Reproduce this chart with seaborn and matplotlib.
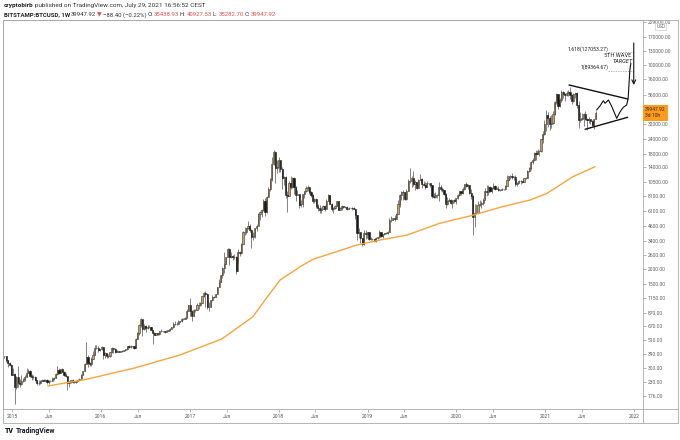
import matplotlib
matplotlib.use('Agg')
import matplotlib.pyplot as plt
import matplotlib.transforms as mtransforms
from matplotlib.ticker import NullLocator
import pandas as pd
import seaborn as sns

sns.set_style('white')
plt.rcParams['font.family'] = ['Roboto', 'DejaVu Sans']

# weekly BITSTAMP:BTCUSD candles, first week starting 2014-12-01
week_start = '2014-12-01'
first_open = 380

close = [
    375, 350, 330, 317, 265,
    # 2015
    267, 210, 254, 226, 222, 235, 244, 255, 275, 283, 260, 252, 253,
    237, 224, 226, 234, 241, 234, 241, 230, 233, 233, 243, 250, 270,
    292, 275, 293, 281, 265, 257, 227, 229, 240, 231, 231, 234, 240,
    245, 263, 285, 325, 373, 330, 323, 360, 389, 445, 438, 422, 432,
    # 2016
    448, 387, 403, 378, 375, 405, 438, 434, 412, 413, 412, 418, 420,
    425, 430, 460, 451, 460, 457, 443, 529, 592, 685, 763, 630, 675,
    650, 665, 662, 625, 590, 570, 584, 574, 607, 607, 609, 604, 614,
    619, 640, 657, 700, 705, 702, 729, 733, 765, 775, 790, 897, 998,
    # 2017
    903, 820, 922, 920, 1011, 997, 1050, 1190, 1270, 1232, 960, 965, 1100,
    1180, 1180, 1245, 1420, 1570, 1775, 2050, 2200, 2510, 2950, 2505, 2590, 2500,
    2510, 1930, 2760, 2740, 3240, 4050, 4070, 4350, 4580, 4190, 3700, 3780, 4390,
    4600, 5700, 6000, 6150, 7400, 5950, 8000, 9300, 11200, 15000, 19000, 13800, 14100,
    # 2018
    16100, 13600, 11500, 11700, 8200, 8100, 10300, 9600, 11400, 9600, 8200, 8500, 6850,
    7000, 8350, 8900, 9400, 9650, 8700, 8200, 7350, 7700, 6700, 6450, 6150, 6350,
    6750, 6350, 7400, 8200, 7000, 6300, 6400, 6700, 7300, 6250, 6500, 6720, 6600,
    6580, 6300, 6420, 6450, 6400, 6350, 5580, 4000, 4100, 3600, 3250, 4000, 3900, 4050,
    # 2019
    3550, 3530, 3550, 3410, 3650, 3670, 4100, 3800, 3900, 4000, 3990, 4100,
    5100, 5100, 5300, 5250, 5750, 6950, 8200, 8750, 8700, 7700, 8900, 10850, 10800,
    11400, 10200, 10500, 9500, 11000, 11300, 10200, 10100, 9700,
    10400, 10300, 10000, 8100, 7900, 8300, 8200, 9550, 9300,
    9030, 8500, 6900, 7400, 7500, 7100, 7500, 7400, 7750,
    # 2020
    8200, 8900, 8600, 9350, 10150, 9900, 9950, 8550, 8050, 5400, 5800, 5900, 6850,
    6900, 7150, 7550, 8900, 8750, 9700, 8900, 9450, 9750, 9350, 9300, 9100, 9100,
    9300, 9200, 9900, 11100, 11900, 11900, 11600, 11700, 10250, 10350, 10900, 10750, 10650,
    11400, 11350, 13100, 13800, 15500, 16000, 18400, 18200, 19100, 19300, 24000, 26500, 32200,
    # 2021
    38200, 36000, 32300, 33100, 38900, 48600, 57400, 45200,
    50900, 59000, 57600, 55800, 58200, 59800, 56200, 50000, 56600,
    58200, 46400, 34700, 35600, 35800, 39100, 35500, 34700, 35300,
    34300, 31800, 35438.93, 39947.92,
]

high = [
    382, 376, 352, 336, 322,
    # 2015
    300, 274, 256, 310, 245, 262, 250, 265, 298, 296, 290, 268, 265,
    260, 240, 238, 240, 246, 244, 244, 242, 240, 237, 252, 254, 275,
    315, 298, 295, 298, 282, 272, 258, 236, 240, 245, 235, 237, 242,
    247, 266, 285, 334, 495, 385, 335, 370, 420, 468, 465, 458, 436,
    # 2016
    462, 452, 410, 397, 392, 405, 448, 440, 443, 423, 418, 420, 425,
    427, 432, 462, 469, 465, 462, 457, 532, 595, 705, 778, 767, 705,
    680, 680, 680, 663, 626, 600, 590, 585, 614, 632, 612, 611, 617,
    620, 642, 660, 720, 740, 722, 750, 744, 780, 780, 795, 939, 1000,
    # 2017
    1153, 910, 929, 930, 1035, 1065, 1055, 1190, 1280, 1325, 1260, 1060, 1100,
    1210, 1202, 1250, 1420, 1650, 1800, 2100, 2760, 2530, 2980, 2990, 2780, 2600,
    2660, 2560, 2950, 2800, 3290, 4160, 4480, 4380, 4980, 4720, 4330, 4100, 4400,
    4780, 5850, 6110, 6300, 7600, 7870, 8050, 9720, 11400, 17200, 19666, 19200, 16300,
    # 2018
    17200, 16200, 14000, 11900, 11800, 9000, 10900, 11800, 11600, 11700, 9900, 9100, 8500,
    7500, 8400, 9000, 9760, 9990, 9650, 8880, 8400, 7780, 7760, 6900, 6800, 6550,
    6800, 6800, 7600, 8500, 8200, 7150, 6600, 6850, 7400, 7400, 6600, 6800, 6750,
    6650, 6690, 6620, 6480, 6520, 6550, 6400, 5600, 4400, 4100, 3600, 4200, 4250, 4100,
    # 2019
    4100, 3700, 3600, 3550, 3700, 3700, 4200, 3900, 3930, 4020, 4100, 4150,
    5350, 5480, 5350, 5620, 5900, 7500, 8350, 8950, 9100, 8800, 9350, 11200, 13800,
    12000, 13100, 11000, 10650, 11150, 12300, 11500, 10900, 10650,
    10900, 10450, 10300, 10000, 8550, 8800, 8400, 10500, 9950,
    9550, 9100, 8550, 7900, 7750, 7650, 7520, 7700, 7800,
    # 2020
    8500, 9000, 8800, 9600, 10200, 10500, 10250, 9950, 9200, 8200, 6900, 6950, 7300,
    7470, 7300, 7800, 9480, 10000, 9950, 9850, 9620, 10400, 9990, 9620, 9800, 9300,
    9450, 9300, 10000, 12100, 12000, 12100, 12500, 11800, 12100, 10500, 11100, 10950, 10900,
    11500, 11700, 13300, 14000, 15950, 16800, 18950, 19400, 19900, 19400, 24200, 28400, 34700,
    # 2021
    41950, 40100, 37800, 38500, 40900, 49700, 58300, 57500,
    52600, 61800, 60600, 58400, 60000, 61200, 64850, 57500, 58400,
    59500, 59500, 49800, 40800, 39500, 40000, 41300, 36000, 36600,
    35100, 34700, 35400, 40927.53,
]

low = [
    364, 340, 305, 310, 261,
    # 2015
    262, 152, 200, 210, 211, 216, 230, 234, 255, 272, 252, 237, 242,
    233, 216, 218, 221, 234, 233, 233, 221, 221, 228, 233, 240, 248,
    265, 270, 273, 276, 259, 255, 198, 208, 224, 226, 224, 226, 233,
    236, 244, 262, 284, 322, 305, 313, 315, 355, 388, 430, 412, 417,
    # 2016
    422, 360, 365, 365, 364, 370, 400, 403, 404, 405, 405, 411, 412,
    415, 420, 428, 441, 441, 448, 435, 440, 525, 568, 656, 550, 620,
    603, 640, 645, 620, 480, 565, 565, 565, 567, 603, 604, 593, 597,
    609, 614, 632, 652, 680, 681, 700, 726, 729, 750, 763, 788, 890,
    # 2017
    812, 740, 815, 880, 915, 940, 982, 1048, 1180, 975, 940, 890, 960,
    1095, 1150, 1170, 1245, 1420, 1560, 1700, 1850, 2190, 2500, 2150, 2460, 2360,
    2440, 1830, 2250, 2560, 2650, 3220, 3850, 3950, 4300, 4040, 2970, 3500, 3600,
    4180, 4750, 5100, 5380, 6120, 5500, 5900, 7970, 9000, 10800, 14800, 10400, 12500,
    # 2018
    12900, 12800, 9200, 10000, 7800, 6000, 8100, 9300, 9400, 8400, 7300, 8200, 6450,
    6600, 6600, 7800, 8700, 8900, 8350, 7900, 7100, 7050, 6500, 6100, 5800, 5800,
    6300, 6100, 6300, 7400, 6900, 6100, 5900, 6300, 6700, 6150, 6150, 6200, 6400,
    6400, 6200, 6350, 6400, 6250, 6300, 5200, 3500, 3600, 3300, 3130, 3200, 3570, 3650,
    # 2019
    3500, 3500, 3480, 3360, 3350, 3560, 3650, 3700, 3650, 3850, 3900, 3900,
    4100, 4900, 5100, 5000, 5200, 5700, 6600, 7500, 7500, 7450, 7550, 8950, 10300,
    9600, 9900, 9100, 9200, 9400, 11000, 9500, 9800, 9350,
    9700, 9950, 9620, 7750, 7800, 7750, 7850, 7300, 8900,
    8700, 8300, 6500, 6850, 7300, 7000, 6450, 7100, 6900,
    # 2020
    7700, 8100, 8300, 8500, 9150, 9700, 9300, 8450, 7700, 3850, 4450, 5700, 5900,
    6750, 6500, 6800, 7650, 8100, 8200, 8700, 8650, 9300, 9050, 9200, 8900, 8950,
    9050, 9050, 9150, 9900, 11000, 11200, 11300, 11100, 9900, 9900, 10500, 10150, 10400,
    10550, 11200, 11400, 12900, 13300, 15100, 15800, 16300, 18200, 17600, 19000, 22300, 26000,
    # 2021
    28000, 30400, 28900, 29800, 32300, 37900, 47100, 43000,
    44900, 49300, 53300, 50400, 55000, 55400, 51500, 47000, 48800,
    53000, 43800, 30000, 33300, 34800, 31000, 34800, 28800, 32700,
    32100, 31000, 29300, 35282.70,
]

# 200-week moving average
ma_dates = ['2015-05-28', '2015-11-01', '2016-05-14', '2016-11-21', '2017-05-12',
            '2017-09-17', '2017-11-26', '2018-01-07', '2018-03-30', '2018-05-22',
            '2018-11-19', '2019-02-22', '2019-06-13', '2019-10-25', '2020-02-26',
            '2020-06-29', '2020-10-30', '2021-01-08', '2021-04-24', '2021-07-24']
ma_values = [213, 242, 299, 386, 524, 803, 1258, 1623, 2093, 2411,
             3172, 3490, 3840, 4805, 5525, 6525, 7505, 8535, 11730, 14200]

# drawings
upper_dates = ['2021-04-08', '2021-12-06']
upper_prices = [67900, 51900]
lower_dates = ['2021-06-13', '2021-12-05']
lower_prices = [29070, 36580]
wave_dates = ['2021-07-30', '2021-08-13', '2021-08-27', '2021-09-03', '2021-09-17',
              '2021-10-01', '2021-10-21', '2021-11-04', '2021-11-17', '2021-12-01',
              '2021-12-07', '2021-12-14', '2021-12-18']
wave_prices = [42060, 45400, 50260, 47820, 50930, 44800, 35870, 40710, 44300, 46290,
               52620, 90500, 102850]
arrow_date = '2021-12-30'
arrow_prices = [151700, 67900]
fib_levels = [127053.27, 89364.67]
fib_labels = ['1.618(127053.27)', '1(89364.67)']
fib_dates = ['2021-09-17', '2022-01-01']

price_ticks = [176, 230, 300, 390, 510, 670, 870, 1150, 1500, 2000, 2600, 3400, 4600,
               6100, 8100, 10500, 14000, 18000, 24000, 32000, 56000, 76000, 100000,
               130000, 170000, 229000]
time_ticks = ['2015-01-01', '2015-06-01', '2016-01-01', '2016-06-01', '2017-01-01',
              '2017-06-01', '2018-01-01', '2018-06-01', '2019-01-01', '2019-06-01',
              '2020-01-01', '2020-06-01', '2021-01-01', '2021-06-01', '2022-01-01']
time_labels = ['2015', 'Jun', '2016', 'Jun', '2017', 'Jun', '2018', 'Jun', '2019', 'Jun',
               '2020', 'Jun', '2021', 'Jun', '2022']

df = pd.DataFrame({'close': close, 'high': high, 'low': low})
df['date'] = pd.date_range(week_start, periods=len(df), freq='W-MON')
df['open'] = [first_open] + close[:-1]

W, H = 680, 440
fig = plt.figure(figsize=(6.8, 4.4), dpi=100)
ax = fig.add_axes([3 / W, 1 - 409 / H, 640 / W, 389 / H])
ax.set_yscale('log')

up = df['close'] >= df['open']
body_low = df[['open', 'close']].min(axis=1)
body_h = (df['close'] - df['open']).abs()
ax.vlines(df['date'], df['low'], df['high'], color='#6e6e6e', lw=0.6, zorder=2)
ax.bar(df['date'][up], body_h[up], bottom=body_low[up], width=4.8,
       color='#c4a270', edgecolor='#3a3226', lw=0.4, zorder=3)
ax.bar(df['date'][~up], body_h[~up], bottom=body_low[~up], width=4.8,
       color='#161616', edgecolor='#161616', lw=0.4, zorder=3)

sns.lineplot(x=pd.to_datetime(ma_dates), y=ma_values, ax=ax, color='#f6a53c', lw=1.0, zorder=4)

# triangle and projected wave
ax.plot(pd.to_datetime(upper_dates), upper_prices, color='#111', lw=1.0, zorder=5)
ax.plot(pd.to_datetime(lower_dates), lower_prices, color='#111', lw=1.0, zorder=5)
ax.plot(pd.to_datetime(wave_dates), wave_prices, color='#111', lw=0.8, zorder=5)
ad = pd.Timestamp(arrow_date)
ax.annotate('', xy=(ad, arrow_prices[1]), xytext=(ad, arrow_prices[0]),
            arrowprops=dict(arrowstyle='->', color='#111', lw=0.8, mutation_scale=7,
                            shrinkA=0, shrinkB=0), zorder=6)
fd = pd.to_datetime(fib_dates)
for lvl, lab in zip(fib_levels, fib_labels):
    ax.plot(fd, [lvl, lvl], color='#9a9a9a', lw=0.5, ls=(0, (2, 1.5)), zorder=4)
    ax.text(fd[0], lvl * 1.01, lab, ha='right', va='bottom', fontsize=3.7, color='#222')
ax.text(pd.Timestamp('2021-10-27'), 118300, '5TH WAVE', ha='center', va='center',
        fontsize=4.1, color='#222')
ax.text(pd.Timestamp('2021-11-13'), 106500, 'TARGET', ha='center', va='center',
        fontsize=4.1, color='#222', style='italic')

ax.set_xlim(pd.Timestamp('2014-11-25'), pd.Timestamp('2022-02-06'))
ax.set_ylim(137.2, 235700)

ax.yaxis.tick_right()
ax.yaxis.set_minor_locator(NullLocator())
ax.set_yticks(price_ticks)
ax.set_yticklabels([f'{v:.2f}' for v in price_ticks])
ax.set_xticks(pd.to_datetime(time_ticks))
ax.set_xticklabels(time_labels)
ax.tick_params(axis='y', length=2, width=0.5, color='#9a9a9a', labelsize=3.6,
               labelcolor='#606060', pad=1.5, right=True, left=False)
ax.tick_params(axis='x', length=2, width=0.5, color='#9a9a9a', labelsize=3.6,
               labelcolor='#505050', pad=1.5, bottom=True)
ax.set_xlabel('')
ax.set_ylabel('')
for sp in ax.spines.values():
    sp.set_color('#a8a8a8')
    sp.set_linewidth(0.6)

# current price label
blend = mtransforms.blended_transform_factory(ax.transAxes, ax.transData)
ax.text(1.003, close[-1], '39947.92\n3d 10h', transform=blend, ha='left', va='center',
        fontsize=3.6, color='#3b2a10', linespacing=1.3, zorder=7, clip_on=False,
        bbox=dict(boxstyle='square,pad=0.45', fc='#ff9a1f', ec='none'))
fig.text(661 / W, 1 - 27 / H, 'USD', fontsize=3.4, color='#666', ha='center', va='center',
         bbox=dict(boxstyle='round,pad=0.25', fc='white', ec='#bbbbbb', lw=0.4))

# outer frame of the chart widget
fig.add_artist(plt.Rectangle((3 / W, 1 - 423 / H), 675 / W, 403 / H, transform=fig.transFigure,
                             fill=False, ec='#a8a8a8', lw=0.6))
fig.add_artist(plt.Line2D([643 / W, 643 / W], [1 - 409 / H, 1 - 423 / H],
                          transform=fig.transFigure, color='#a8a8a8', lw=0.6))
fig.add_artist(plt.Line2D([643 / W, 678 / W], [1 - 409 / H, 1 - 409 / H],
                          transform=fig.transFigure, color='#a8a8a8', lw=0.6))

# header
renderer = fig.canvas.get_renderer()


def text_row(x_px, y_px, parts, size, gap):
    x = x_px / W
    for s, col, wt in parts:
        t = fig.text(x, 1 - y_px / H, s, fontsize=size, color=col, weight=wt, va='baseline')
        bb = t.get_window_extent(renderer)
        x = bb.x1 / fig.bbox.width + gap / W


text_row(4, 7.5, [('cryptobirb', '#222', 'bold'),
                  ('published on TradingView.com, July 29, 2021 16:56:52 CEST', '#333', 'normal')],
         4.6, 1.2)
red = '#e0504a'
text_row(4, 16.5, [('BITSTAMP:BTCUSD, 1W', '#222', 'bold'), ('39947.92', '#333', 'normal'),
                   ('▼', red, 'normal'), ('−88.40 (−0.22%)', '#333', 'normal'),
                   ('O:', '#333', 'normal'), ('35438.93', red, 'normal'),
                   ('H:', '#333', 'normal'), ('40927.53', red, 'normal'),
                   ('L:', '#333', 'normal'), ('35282.70', red, 'normal'),
                   ('C:', '#333', 'normal'), ('39947.92', red, 'normal')], 4.3, 0.9)

fig.text(5 / W, 1 - 431 / H, 'TV', fontsize=5, weight='heavy', color='#131722', va='center')
fig.text(16 / W, 1 - 431 / H, 'TradingView', fontsize=5, weight='bold', color='#131722', va='center')

fig.savefig('out.png', dpi=100)
